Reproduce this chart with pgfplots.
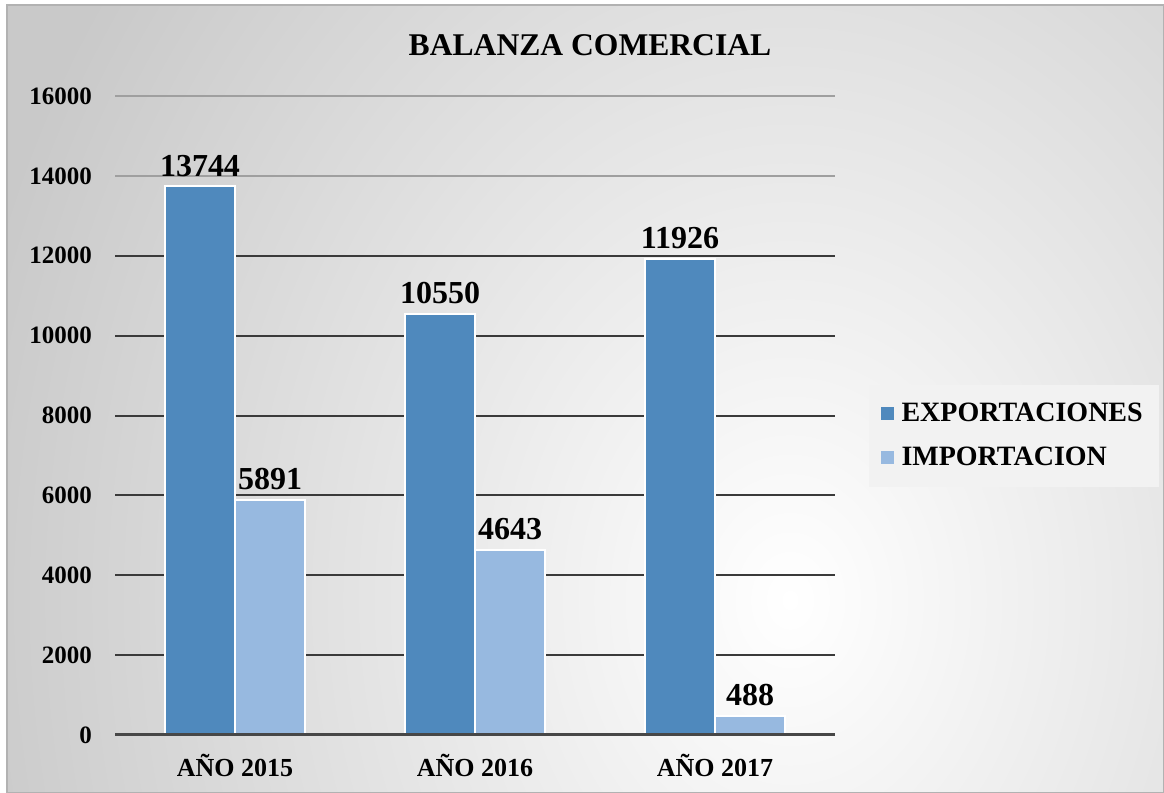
\documentclass[border=0pt]{standalone}
\usepackage{pgfplots}
\pgfplotsset{compat=1.18}
\usepackage{fontspec}
\setmainfont{Liberation Serif}
\definecolor{expo}{HTML}{4F89BD}
\definecolor{impo}{HTML}{97B9E0}
\definecolor{gridc}{HTML}{3A3A3A}
\begin{document}
\begin{tikzpicture}
\begin{scope}[x=0.5pt,y=-0.5pt]
\path[use as bounding box] (0,0) rectangle (1164,793);
\begin{scope}
\clip (7,5) rectangle (1164,793);
\fill[gray!42] (7,5) rectangle (1164,793);
\shade[inner color=white, outer color=gray!42] (790,600) ellipse [x radius=420pt, y radius=520pt];
\end{scope}
\draw[gray!60, line width=0.6pt] (7,5) rectangle (1163.5,792.5);
\node[font=\bfseries\fontsize{15.8}{19}\selectfont] at (590,45) {BALANZA COMERCIAL};
\end{scope}
\begin{axis}[
  at={(57.5pt,-367.5pt)}, anchor=south west, scale only axis,
  width=360pt, height=319.5pt,
  xmin=-0.5, xmax=2.5, ymin=0, ymax=16000,
  ybar=0pt, bar width=35pt,
  axis line style={draw=none},
  tick style={draw=none},
  xtick={0,1,2},
  xticklabels={AÑO 2015, AÑO 2016, AÑO 2017},
  ytick={0,2000,4000,6000,8000,10000,12000},
  extra y ticks={14000,16000},
  extra y tick style={major grid style={color=gray!75, line width=1pt}},
  scaled y ticks=false,
  /pgf/number format/.cd, 1000 sep={}, assume math mode=true, /pgfplots/.cd,
  ymajorgrids,
  major grid style={color=gridc, line width=1pt},
  yticklabel style={font=\bfseries\fontsize{12.5}{14}\selectfont, xshift=-8pt},
  xticklabel style={font=\bfseries\fontsize{13}{15}\selectfont, yshift=-2pt},
  nodes near coords,
  every node near coord/.append style={font=\bfseries\fontsize{16}{18}\selectfont, text=black, yshift=1pt},
  legend style={at={(1.046,0.549)}, anchor=north west, fill=black!5, draw=none,
    font=\bfseries\fontsize{14}{16}\selectfont, inner xsep=6pt, inner ysep=7pt, row sep=7.5pt, column sep=2pt},
  legend cell align=left,
  legend image code/.code={\fill[#1,draw=none] (0pt,-3.25pt) rectangle (6.5pt,3.25pt);},
]
\addplot[fill=expo, draw=white, line width=1pt] coordinates {(0,13744) (1,10550) (2,11926)};
\addplot[fill=impo, draw=white, line width=1pt] coordinates {(0,5891) (1,4643) (2,488)};
\legend{EXPORTACIONES, IMPORTACION}
\draw[line width=2pt, color=black!72] (axis cs:-0.5,0) -- (axis cs:2.5,0);
\end{axis}
\end{tikzpicture}
\end{document}
